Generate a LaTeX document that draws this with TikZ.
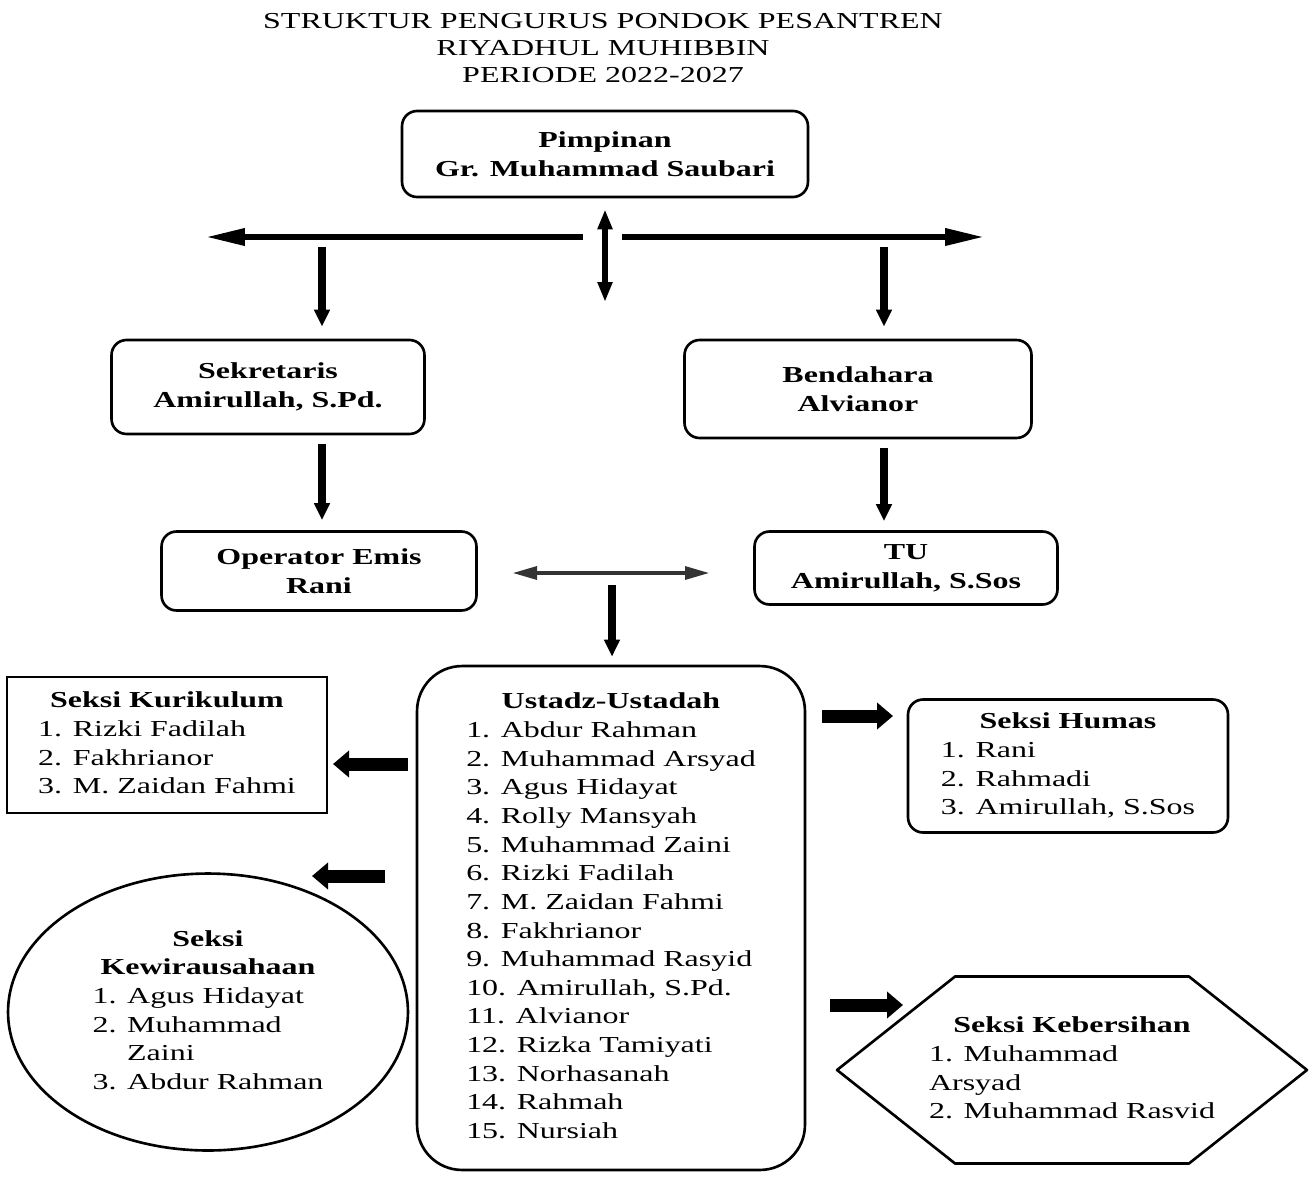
\documentclass[tikz,border=0pt]{standalone}
\usepackage{fontspec}
\setmainfont[FakeStretch=1.4]{Liberation Serif}
\usetikzlibrary{arrows.meta}
\usetikzlibrary{positioning}
\usetikzlibrary{shapes.geometric}
\newcommand{\ukuran}{\fontsize{13}{16.3}\selectfont}
\tikzstyle{jabatan} = [rectangle, rounded corners=0.3cm, draw=black, line width=1.5pt, align=center, font=\ukuran\bfseries]
\tikzstyle{seksi} = [draw=black, line width=1.5pt, font=\ukuran, inner sep=0pt]
\tikzstyle{panah} = [line width=0.15cm, -{Triangle[length=0.34cm, width=0.3cm]}]
\tikzstyle{panahdua} = [line width=0.12cm, {Triangle[length=0.4cm, width=0.28cm]}-{Triangle[length=0.4cm, width=0.28cm]}]
\tikzstyle{panahblok} = [line width=0.26cm, -{Triangle[length=0.32cm, width=0.52cm]}]
\tikzstyle{garis} = [line width=0.13cm]

\begin{document}
\begin{tikzpicture}[x=0.02cm, y=-0.02cm]
    \useasboundingbox (0,0) rectangle (1311,1180);

    \node (judul) [align=center, font=\fontsize{13}{15.6}\selectfont] at (603,48) {STRUKTUR PENGURUS PONDOK PESANTREN\\RIYADHUL MUHIBBIN\\PERIODE 2022-2027};

    \node (pimpinan) [jabatan, minimum width=8.12cm, minimum height=1.72cm] at (605,154) {Pimpinan\\Gr. Muhammad Saubari};
    \node (sekretaris) [jabatan, minimum width=6.26cm, minimum height=1.88cm] at (268,387) {Sekretaris\\Amirullah, S.Pd.};
    \node (bendahara) [jabatan, minimum width=6.94cm, minimum height=1.96cm] at (858,389) {Bendahara\\Alvianor};
    \node (operator) [jabatan, minimum width=6.3cm, minimum height=1.58cm] at (319,571) {Operator Emis\\Rani};
    \node (tu) [jabatan, minimum width=6.06cm, minimum height=1.46cm] at (906,568) {TU\\Amirullah, S.Sos};

    \node (ustadz) [seksi, rectangle, rounded corners=0.9cm, minimum width=7.76cm, minimum height=10.08cm] at (611,918) {\begin{tabular}{@{}l@{}}
        \multicolumn{1}{@{}c@{}}{\bfseries Ustadz-Ustadah}\\
        1. Abdur Rahman\\
        2. Muhammad Arsyad\\
        3. Agus Hidayat\\
        4. Rolly Mansyah\\
        5. Muhammad Zaini\\
        6. Rizki Fadilah\\
        7. M. Zaidan Fahmi\\
        8. Fakhrianor\\
        9. Muhammad Rasyid\\
        10. Amirullah, S.Pd.\\
        11. Alvianor\\
        12. Rizka Tamiyati\\
        13. Norhasanah\\
        14. Rahmah\\
        15. Nursiah
    \end{tabular}};

    \node (kurikulum) [seksi, rectangle, minimum width=6.4cm, minimum height=2.72cm] at (167,745) {\begin{tabular}{@{}l@{}}
        \multicolumn{1}{@{}c@{}}{\bfseries Seksi Kurikulum}\\
        1. Rizki Fadilah\\
        2. Fakhrianor\\
        3. M. Zaidan Fahmi
    \end{tabular}};

    \node (humas) [seksi, rectangle, rounded corners=0.3cm, minimum width=6.4cm, minimum height=2.66cm] at (1068,766) {\begin{tabular}{@{}l@{}}
        \multicolumn{1}{@{}c@{}}{\bfseries Seksi Humas}\\
        1. Rani\\
        2. Rahmadi\\
        3. Amirullah, S.Sos
    \end{tabular}};

    \node (kewirausahaan) [seksi, ellipse, minimum width=8cm, minimum height=5.54cm] at (208,1012) {\begin{tabular}{@{}l@{}}
        \multicolumn{1}{@{}c@{}}{\bfseries Seksi}\\
        \multicolumn{1}{@{}c@{}}{\bfseries Kewirausahaan}\\
        1. Agus Hidayat\\
        2. Muhammad\\
        \phantom{2. }Zaini\\
        3. Abdur Rahman
    \end{tabular}};

    \node (kebersihan) [seksi, draw=none, outer sep=0pt, minimum width=9.4cm, minimum height=3.74cm] at (1072,1070) {\begin{tabular}{@{}l@{}}
        \multicolumn{1}{@{}c@{}}{\bfseries Seksi Kebersihan}\\
        1. Muhammad\\
        Arsyad\\
        2. Muhammad Rasvid
    \end{tabular}};
    \draw [line width=1.5pt, line join=round] (kebersihan.west) -- ([xshift=2.36cm]kebersihan.north west) -- ([xshift=-2.36cm]kebersihan.north east) -- (kebersihan.east) -- ([xshift=-2.36cm]kebersihan.south east) -- ([xshift=2.36cm]kebersihan.south west) -- cycle;

    % garis atas
    \coordinate (kiri) at (205,237);
    \coordinate (tengahkiri) at (583,237);
    \coordinate (tengahkanan) at (622,237);
    \coordinate (kanan) at (985,237);
    \coordinate (bawah) at (605,302);
    \coordinate (turunkiri) at (322,247);
    \coordinate (turunkanan) at (884,247);

    \draw [garis, {Triangle[length=0.8cm, width=0.32cm]}-] (kiri) -- (tengahkiri);
    \draw [garis, -{Triangle[length=0.8cm, width=0.32cm]}] (tengahkanan) -- (kanan);
    \draw [panahdua, shorten <=0.22cm] (pimpinan.south) -- (bawah);
    \draw [panah, shorten >=0.24cm] (turunkiri) -- (turunkiri |- sekretaris.north);
    \draw [panah, shorten >=0.24cm] (turunkanan) -- (turunkanan |- bendahara.north);
    \draw [panah, shorten <=0.18cm, shorten >=0.2cm] (turunkiri |- sekretaris.south) -- (turunkiri |- operator.north);
    \draw [panah, shorten <=0.18cm, shorten >=0.18cm] (turunkanan |- bendahara.south) -- (turunkanan |- tu.north);

    % tengah
    \coordinate (hubkiri) at (512,573);
    \coordinate (hubkanan) at (710,573);
    \coordinate (turuntengah) at (612,585);
    \draw [line width=0.09cm, black!80, {Triangle[length=0.5cm, width=0.25cm]}-{Triangle[length=0.5cm, width=0.25cm]}] (hubkiri) -- (hubkanan);
    \draw [panah, shorten >=0.16cm] (turuntengah) -- (turuntengah |- ustadz.north);

    % panah seksi
    \coordinate (a1) at (408,764);
    \coordinate (b1) at (333,764);
    \coordinate (a2) at (385,876);
    \coordinate (b2) at (312,876);
    \coordinate (a3) at (822,716);
    \coordinate (b3) at (893,716);
    \coordinate (a4) at (830,1005);
    \coordinate (b4) at (903,1005);
    \draw [panahblok] (a1) -- (b1);
    \draw [panahblok] (a2) -- (b2);
    \draw [panahblok] (a3) -- (b3);
    \draw [panahblok] (a4) -- (b4);

\end{tikzpicture}
\end{document}
